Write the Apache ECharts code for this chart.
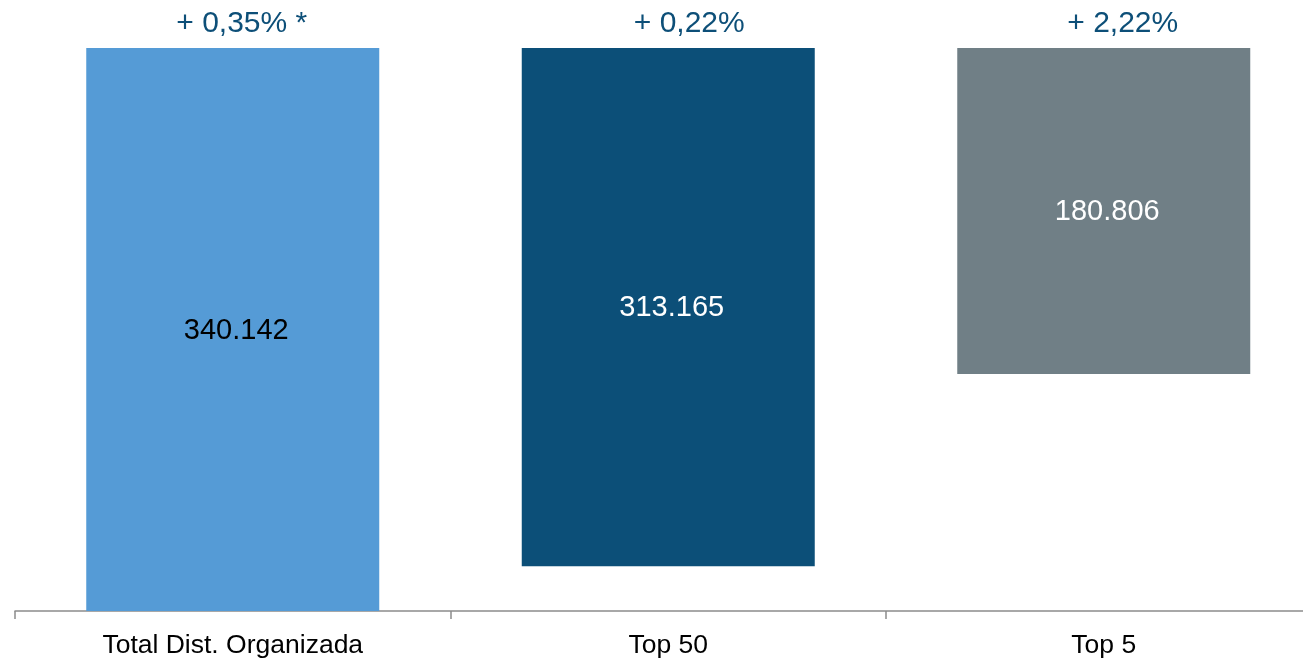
<!DOCTYPE html>
<html>
<head>
<meta charset="utf-8">
<script src="https://cdn.jsdelivr.net/npm/echarts@6/dist/echarts.min.js"></script>
<style>
html,body{margin:0;padding:0;background:#fff;}
#chart{width:1303px;height:660px;}
</style>
</head>
<body>
<div id="chart"></div>
<script>
// Data
const categories = ['Total Dist. Organizada', 'Top 50', 'Top 5'];
const valueLabels = [340.142, 313.165, 180.806];
const changeLabels = ['+ 0,35% *', '+ 0,22%', '+ 2,22%'];
// Bar extents (floating bars)
const barBottoms = [0, 26.98, 143.2];
const barTops = [340.142, 340.142, 340.142];

const barColors = ['#559bd6', '#0c4f78', '#707f86'];
const labelColors = ['#000000', '#ffffff', '#ffffff'];
const changeOffsets = [9, 21, 19];
const fmt = v => v.toFixed(3);

const chart = echarts.init(document.getElementById('chart'), null, {renderer: 'canvas'});
chart.setOption({
  animation: false,
  textStyle: {fontFamily: 'Liberation Sans, Arial, sans-serif'},
  grid: {left: 15, width: 1306.5, top: 48, bottom: 49, containLabel: false, outerBoundsMode: 'none'},
  xAxis: {
    type: 'category',
    data: categories,
    axisLine: {show: true, lineStyle: {color: '#8c8c8c', width: 1.5}},
    axisTick: {show: true, alignWithLabel: false, length: 8, lineStyle: {color: '#8c8c8c', width: 1.5}},
    axisLabel: {color: '#000', fontSize: 26.5, margin: 21, fontFamily: 'Liberation Sans, Arial, sans-serif', interval: 0}
  },
  yAxis: {
    type: 'value', min: 0, max: 340.142, show: false,
    splitLine: {show: false}
  },
  series: [
    {
      type: 'bar', stack: 's', barWidth: 293, silent: true,
      itemStyle: {color: 'transparent'},
      data: barBottoms
    },
    {
      type: 'bar', stack: 's', barWidth: 293,
      data: barTops.map((t, i) => ({
        value: t - barBottoms[i],
        itemStyle: {color: barColors[i]},
        label: {color: labelColors[i]}
      })),
      label: {
        show: true, position: 'inside', fontSize: 29, offset: [3.5, 1],
        fontFamily: 'Liberation Sans, Arial, sans-serif',
        formatter: p => fmt(valueLabels[p.dataIndex])
      }
    },
    {
      type: 'scatter', symbolSize: 0, silent: true,
      itemStyle: {opacity: 1},
      data: barTops.map((t, i) => ({value: t, label: {offset: [changeOffsets[i], 0]}})),
      label: {
        show: true, position: 'top', distance: 9, fontSize: 30,
        color: '#0d4f78', opacity: 1,
        fontFamily: 'Liberation Sans, Arial, sans-serif',
        formatter: p => changeLabels[p.dataIndex]
      }
    }
  ]
});
</script>
</body>
</html>
